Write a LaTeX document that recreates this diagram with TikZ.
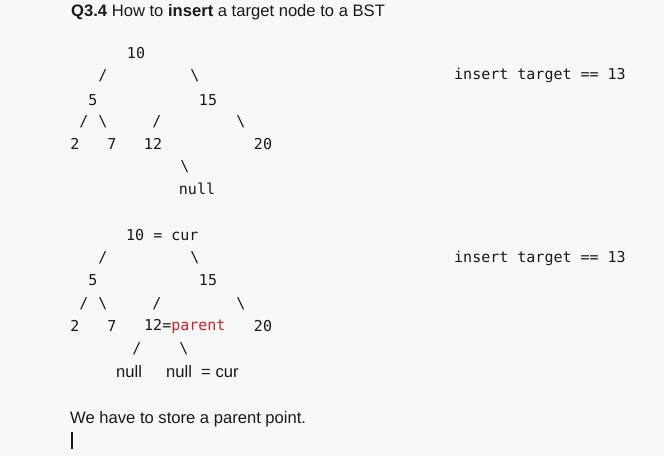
\documentclass[tikz,border=0pt]{standalone}
\usepackage{fontspec}
\setmainfont{Liberation Sans}
\setmonofont{DejaVu Sans Mono}
\usepackage{xcolor}
\definecolor{pagebg}{RGB}{248,248,248}
\definecolor{ink}{RGB}{25,25,25}
\definecolor{redink}{RGB}{205,35,40}

\begin{document}
\begin{tikzpicture}
               [x=1pt, y=-1pt,
                key/.style = {font=\ttfamily\fontsize{15}{18}\selectfont, text=ink, inner sep=0pt},
                txt/.style = {font=\fontsize{16.6}{19}\selectfont, text=ink, inner sep=0pt, anchor=base west}]
                % Page
                \fill[pagebg] (0,0) rectangle (664,456);
                \useasboundingbox (0,0) rectangle (664,456);
                % Title
                \node[txt] (title) at (71,16) {\textbf{Q3.4} How to \textbf{insert} a target node to a BST};
                % First tree: keys
                \node[key] (a10) at (136,53) {10};
                \node[key] (a5) at (93,100) {5};
                \node[key] (a15) at (208,100) {15};
                \node[key] (a2) at (75,144) {2};
                \node[key] (a7) at (112,144) {7};
                \node[key] (a12) at (153,144) {12};
                \node[key] (a20) at (263,144) {20};
                \node[key] (anull) at (197,189) {null};
                % First tree: links
                \node[key] (a10l) at (103,76) {/};
                \node[key] (a10r) at (195,76) {\textbackslash};
                \node[key] (a5l) at (84,122) {/};
                \node[key] (a5r) at (103,122) {\textbackslash};
                \node[key] (a15l) at (157,122) {/};
                \node[key] (a15r) at (241,122) {\textbackslash};
                \node[key] (a12r) at (185,167) {\textbackslash};
                \node[key, anchor=west] (atarget) at (454,75) {insert target == 13};
                % Second tree: keys
                \node[key, anchor=west] (b10) at (126,235) {10 = cur};
                \node[key] (b5) at (93,280) {5};
                \node[key] (b15) at (208,280) {15};
                \node[key] (b2) at (75,326) {2};
                \node[key] (b7) at (112,326) {7};
                \node[key, anchor=west] (b12) at (144,326) {12=\textcolor{redink}{parent}};
                \node[key] (b20) at (263,326) {20};
                \node[txt] (bnulll) at (116,377) {null};
                \node[txt] (bnullr) at (166,377) {null\ \ = cur};
                % Second tree: links
                \node[key] (b10l) at (103,258) {/};
                \node[key] (b10r) at (195,258) {\textbackslash};
                \node[key] (b5l) at (84,304) {/};
                \node[key] (b5r) at (103,304) {\textbackslash};
                \node[key] (b15l) at (157,304) {/};
                \node[key] (b15r) at (241,304) {\textbackslash};
                \node[key] (b12l) at (137,349) {/};
                \node[key] (b12r) at (184,349) {\textbackslash};
                \node[key, anchor=west] (btarget) at (454,258) {insert target == 13};
                % Note and cursor
                \node[txt] (note) at (70,423) {We have to store a parent point.};
                \coordinate (ctop) at (72,432);
                \coordinate (cbot) at (72,449);
                \draw[ink, line width=1.6pt] (ctop) -- (cbot);
            \end{tikzpicture}
\end{document}
